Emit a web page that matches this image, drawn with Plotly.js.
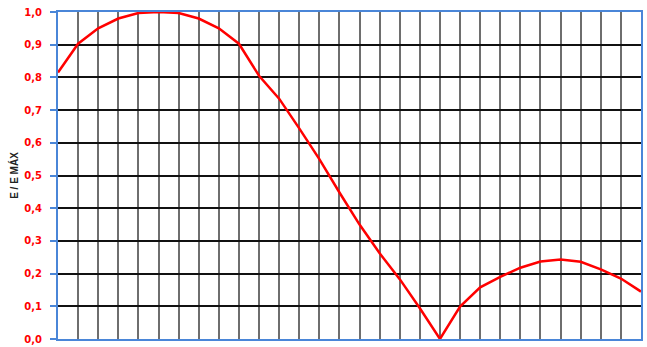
<!DOCTYPE html>
<html>
<head>
<meta charset="utf-8">
<script src="https://cdn.plot.ly/plotly-3.0.1.min.js"></script>
<style>html,body{margin:0;padding:0;background:#fff;}#chart{width:647px;height:347px;}</style>
</head>
<body>
<div id="chart"></div>
<script>
const xIndex = [0,1,2,3,4,5,6,7,8,9,10,11,12,13,14,15,16,17,18,19,20,21,22,23,24,25,26,27,28,29];
const ratio = [0.815,0.903,0.95,0.98,0.997,1.0,0.997,0.98,0.95,0.903,0.805,0.735,0.644,0.55,0.448,0.35,0.262,0.183,0.094,0.0,0.099,0.158,0.19,0.218,0.237,0.243,0.236,0.213,0.185,0.145];
const yTickVals = [0,0.1,0.2,0.3,0.4,0.5,0.6,0.7,0.8,0.9,1.0];
const yTickText = ['0,0','0,1','0,2','0,3','0,4','0,5','0,6','0,7','0,8','0,9','1,0'];
const yTitle = 'E / E MÁX';

const trace = {
  x: xIndex, y: ratio, type: 'scatter', mode: 'lines',
  line: {color: '#ff0000', width: 2.5}, hoverinfo: 'skip'
};
const layout = {
  width: 647, height: 347,
  margin: {l: 58, r: 6, t: 12, b: 8},
  paper_bgcolor: '#ffffff', plot_bgcolor: '#ffffff',
  showlegend: false,
  xaxis: {
    range: [0, 29], dtick: 1, tick0: 0,
    showgrid: true, gridcolor: '#6e6e6e', gridwidth: 2,
    showticklabels: false, ticks: '',
    zeroline: false,
    showline: true, linecolor: '#4a86d8', linewidth: 2, mirror: true
  },
  yaxis: {
    range: [0, 1.0], tickmode: 'array', tickvals: yTickVals, ticktext: yTickText,
    showgrid: true, gridcolor: '#111111', gridwidth: 2,
    zeroline: false,
    ticks: 'outside', ticklen: 6, tickwidth: 2, tickcolor: '#4a86d8',
    ticklabelstandoff: 6,
    tickfont: {family: 'DejaVu Sans, sans-serif', size: 10, color: '#ff0000', weight: 'bold'},
    showline: true, linecolor: '#4a86d8', linewidth: 2, mirror: true,
    title: {text: yTitle, standoff: 4, font: {family: 'Liberation Sans Narrow, Liberation Sans, Arial, sans-serif', size: 10, color: '#222', weight: 'bold'}}
  }
};
Plotly.newPlot('chart', [trace], layout, {staticPlot: true, displayModeBar: false});
</script>
</body>
</html>
